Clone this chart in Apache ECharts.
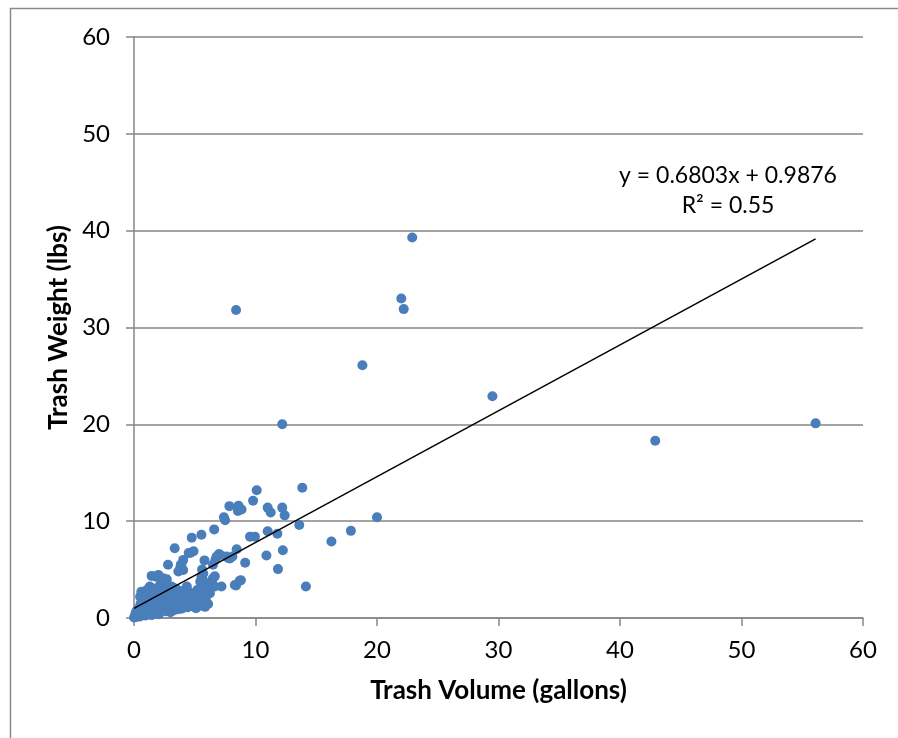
<!DOCTYPE html>
<html>
<head>
<meta charset="utf-8">
<title>Trash Weight vs Volume</title>
<script src="https://cdn.jsdelivr.net/npm/echarts@6/dist/echarts.min.js"></script>
<style>
  html, body { margin: 0; padding: 0; background: #ffffff; }
  #chart { width: 898px; height: 738px; }
</style>
</head>
<body>
<div id="chart"></div>
<script>
// Trash volume (gallons) and weight (lbs) per collection
const volume = [
  8.4, 22.0, 22.2, 22.9, 18.8, 29.5, 42.9, 56.1, 12.2,
  10.1, 13.85, 9.8, 7.85, 8.6, 8.85, 8.55, 7.4, 7.5, 11.0, 11.25, 12.2, 12.4, 13.6, 20.0, 17.85, 16.25,
  11.0, 11.8, 9.55, 9.95, 6.6, 5.55, 4.75, 12.25, 10.9, 9.15, 11.85, 14.15, 8.45, 8.1, 7.75, 7.0, 6.7,
  6.5, 5.8, 4.9, 4.5, 4.05, 3.85, 8.8, 8.4, 7.2, 6.65, 6.4, 5.65,
  3.35, 4.65, 3.8, 3.65, 1.45, 2.4, 2.7, 2.15, 1.6, 1.05, 0.5,
  5.45, 5.7, 4.35, 3.35, 2.95, 4.35, 4.75, 5.45, 5.85, 6.1, 3.25, 1.6, 2.15, 0.75, 1.3, 1.85, 0.1, 0.35, 0.0,
  7.1, 7.6, 7.9, 6.8, 1.85, 2.0, 2.8, 3.9, 4.05, 1.75, 1.3, 0.6, 2.4, 2.8, 3.1, 5.55, 6.1, 5.85, 6.65,
  6.25, 6.0, 4.45, 5.0, 5.3, 8.3, 8.7, 6.5, 5.6, 5.7,
  0.2, 0.3, 0.4, 0.5, 0.6, 0.7, 0.8, 0.9, 1.0, 1.1, 1.2, 1.3, 1.4, 1.5, 1.6, 1.7, 1.8, 1.9, 2.0, 2.1,
  2.2, 2.3, 2.4, 2.5, 2.6, 2.7, 2.8, 2.9, 3.0, 3.1, 3.2, 3.3, 3.4, 3.5, 3.6, 3.7, 3.8, 3.9, 4.0, 4.1,
  4.2, 4.3, 4.5, 4.6, 4.8, 5.0, 5.2, 5.3, 5.5, 5.6, 0.15, 0.45, 0.85, 1.25, 1.55, 2.0, 2.35, 2.9, 3.2,
  3.6, 0.25, 0.55, 1.0, 1.2, 0.95, 1.45, 2.05, 2.6, 3.0, 3.6, 3.9, 4.4, 4.9, 5.1, 2.2, 3.3, 4.0, 4.6,
  5.2, 5.7, 5.9, 5.8, 6.0, 6.2
];
const weight = [
  31.8, 33.0, 31.9, 39.3, 26.1, 22.9, 18.3, 20.1, 20.0,
  13.2, 13.45, 12.1, 11.55, 11.6, 11.2, 11.05, 10.4, 10.1, 11.4, 10.9, 11.4, 10.6, 9.6, 10.4, 9.0, 7.9,
  8.95, 8.7, 8.4, 8.4, 9.15, 8.6, 8.3, 7.0, 6.45, 5.7, 5.05, 3.25, 7.1, 6.35, 6.2, 6.6, 6.0,
  5.5, 5.95, 6.9, 6.7, 6.0, 5.5, 3.9, 3.35, 3.25, 4.3, 3.75, 4.0,
  7.2, 6.75, 5.15, 4.8, 4.35, 4.1, 4.0, 3.4, 2.7, 2.9, 2.2,
  3.75, 3.25, 3.25, 2.55, 2.2, 2.05, 1.85, 1.7, 1.15, 1.45, 1.0, 1.5, 1.7, 1.0, 0.65, 0.5, 0.3, 0.5, 0.05,
  6.5, 6.35, 6.15, 6.35, 4.25, 4.45, 5.5, 5.5, 4.95, 3.05, 3.25, 2.7, 3.4, 2.9, 3.25, 4.25, 3.55, 2.9, 3.25,
  2.55, 1.5, 2.7, 2.2, 2.2, 3.4, 3.85, 4.1, 5.0, 4.6,
  0.1, 0.2, 0.35, 0.15, 0.4, 0.6, 0.3, 0.8, 0.5, 1.2, 0.4, 1.0, 1.5, 0.8, 2.0, 1.1, 0.9, 1.4, 1.0, 2.2,
  1.3, 0.8, 1.9, 1.2, 2.5, 1.6, 1.0, 1.8, 1.3, 2.0, 1.6, 0.8, 1.9, 1.4, 2.3, 1.7, 1.2, 2.0, 1.5, 2.4,
  1.8, 1.3, 1.6, 2.1, 1.5, 1.7, 1.5, 1.9, 1.3, 2.2, 0.6, 1.1, 1.6, 1.9, 2.4, 2.8, 2.6, 2.5, 2.8,
  2.9, 0.8, 1.5, 1.7, 2.3, 0.25, 0.3, 0.4, 0.7, 0.6, 0.9, 0.95, 1.1, 1.2, 1.0, 3.0, 3.1, 2.8, 2.6,
  2.9, 2.3, 2.0, 1.8, 2.6, 3.0
];

// Least-squares fit shown on the chart
const slope = 0.6803;
const intercept = 0.9876;
const rSquared = 0.55;

const xTicks = [0, 10, 20, 30, 40, 50, 60];
const yTicks = [0, 10, 20, 30, 40, 50, 60];

const points = volume.map((v, i) => [v, weight[i]]);
const xMin = Math.min(...volume);
const xMax = Math.max(...volume);
const trend = [[xMin, slope * xMin + intercept], [xMax, slope * xMax + intercept]];

const FONT = 'Lato, "Open Sans", sans-serif';
const GRAY = '#868686';

const chart = echarts.init(document.getElementById('chart'), null, { renderer: 'canvas' });
chart.setOption({
  animation: false,
  backgroundColor: '#ffffff',
  grid: { left: 134, right: 35, top: 37, bottom: 120, containLabel: false },
  graphic: [
    {
      type: 'rect',
      left: 8, top: 6,
      shape: { width: 1000, height: 1000 },
      style: { fill: 'none', stroke: '#8a8a8a', lineWidth: 1.5 },
      silent: true
    },
    {
      type: 'text',
      x: 728, y: 176,
      style: {
        text: 'y = ' + slope.toFixed(4) + 'x + ' + intercept.toFixed(4),
        font: '23px ' + FONT, fill: '#000', align: 'center', verticalAlign: 'middle'
      }
    },
    {
      type: 'text',
      x: 728, y: 206,
      style: {
        text: 'R² = ' + rSquared.toFixed(2),
        font: '23px ' + FONT, fill: '#000', align: 'center', verticalAlign: 'middle'
      }
    }
  ],
  xAxis: {
    type: 'value',
    min: xTicks[0], max: xTicks[xTicks.length - 1], interval: xTicks[1] - xTicks[0],
    name: 'Trash Volume (gallons)',
    nameLocation: 'middle', nameGap: 60,
    nameTextStyle: { fontFamily: FONT, fontWeight: 'bold', fontSize: 26, color: '#000' },
    axisLine: { show: true, onZero: false, lineStyle: { color: GRAY, width: 1.5 } },
    axisTick: { show: true, inside: false, length: 8, lineStyle: { color: GRAY, width: 1.5 } },
    axisLabel: { fontFamily: FONT, fontSize: 24, color: '#000', margin: 20 },
    splitLine: { show: false }
  },
  yAxis: {
    type: 'value',
    min: yTicks[0], max: yTicks[yTicks.length - 1], interval: yTicks[1] - yTicks[0],
    name: 'Trash Weight (lbs)',
    nameLocation: 'middle', nameGap: 61, nameRotate: 90,
    nameTextStyle: { fontFamily: FONT, fontWeight: 'bold', fontSize: 26, color: '#000' },
    axisLine: { show: true, onZero: false, lineStyle: { color: GRAY, width: 1.5 } },
    axisTick: { show: true, inside: false, length: 8, lineStyle: { color: GRAY, width: 1.5 } },
    axisLabel: { fontFamily: FONT, fontSize: 24, color: '#000', margin: 24 },
    splitLine: { show: true, lineStyle: { color: GRAY, width: 1.5 } }
  },
  series: [
    {
      name: 'Trash',
      type: 'scatter',
      data: points,
      symbol: 'circle',
      symbolSize: 10,
      itemStyle: { color: '#4A7EBB', opacity: 1 },
      z: 2
    },
    {
      name: 'Linear fit',
      type: 'line',
      data: trend,
      symbol: 'none',
      lineStyle: { color: '#000', width: 1.5 },
      z: 3,
      silent: true
    }
  ]
});
</script>
</body>
</html>
